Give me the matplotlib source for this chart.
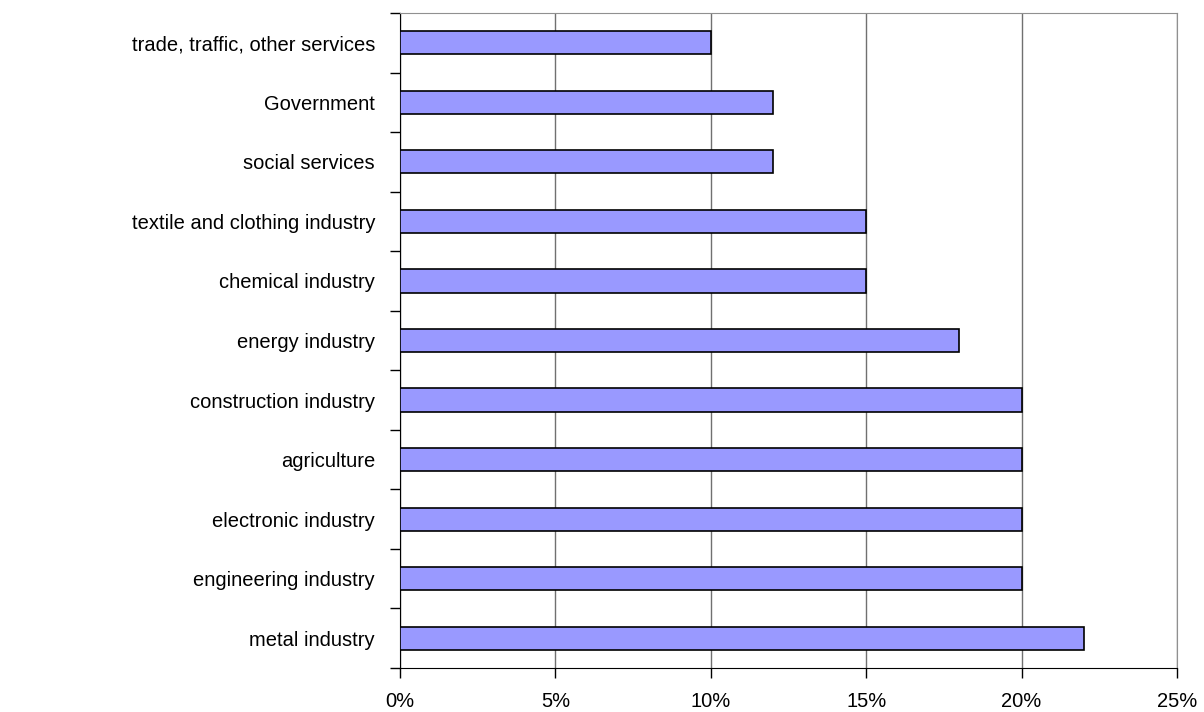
import numpy as np
import matplotlib.pyplot as plt
from matplotlib.ticker import FuncFormatter, FixedLocator

# categories from bottom to top, as in the chart
categories = ['metal industry', 'engineering industry', 'electronic industry',
              'agriculture', 'construction industry', 'energy industry',
              'chemical industry', 'textile and clothing industry',
              'social services', 'Government', 'trade, traffic, other services']
shares = [22, 20, 20, 20, 20, 18, 15, 15, 12, 12, 10]  # percent
x_ticks = [0, 5, 10, 15, 20, 25]

plt.rcParams['font.family'] = ['Liberation Sans', 'DejaVu Sans']

fig = plt.figure(figsize=(12.04, 7.12), dpi=100)
ax = fig.add_axes([400 / 1204, 1 - 668 / 712, 777 / 1204, 655 / 712])

y = np.arange(len(categories))
ax.barh(y, shares, height=0.39, color='#9999FF', edgecolor='black', linewidth=1.2, zorder=3)

ax.set_xlim(0, 25)
ax.set_ylim(-0.5, len(categories) - 0.5)

ax.set_xticks(x_ticks)
ax.xaxis.set_major_formatter(FuncFormatter(lambda v, p: f'{v:.0f}%'))
ax.grid(axis='x', color='#707070', linewidth=1, zorder=1)

# labels at bar centres, tick marks at category boundaries
ax.set_yticks(y)
ax.set_yticklabels(categories)
ax.yaxis.set_minor_locator(FixedLocator(np.arange(-0.5, len(categories), 1)))
ax.tick_params(axis='y', which='major', length=0, pad=18, labelsize=14.5)
ax.tick_params(axis='y', which='minor', length=7, width=1, direction='out')
ax.tick_params(axis='x', length=7, width=1, direction='out', pad=10, labelsize=14.5)

ax.spines['left'].set_color('black')
ax.spines['bottom'].set_color('black')
ax.spines['top'].set_color('#909090')
ax.spines['right'].set_color('#909090')

fig.savefig('out.png', dpi=100)
